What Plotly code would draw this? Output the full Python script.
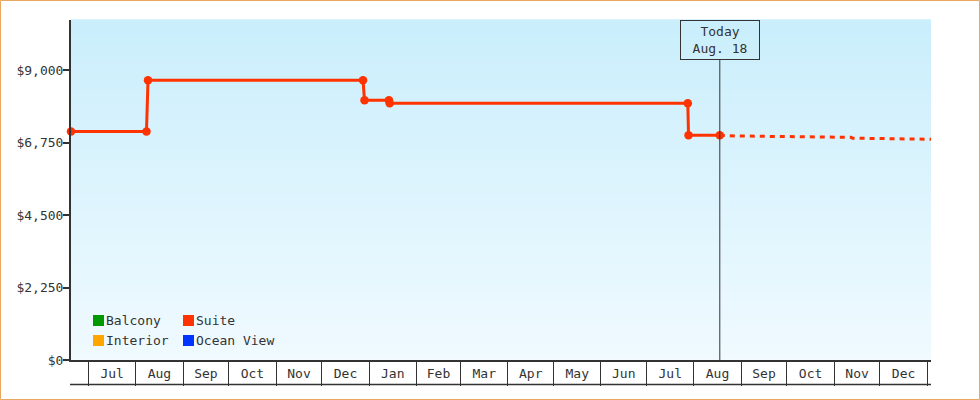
import plotly.graph_objects as go

# ---------------- data ----------------
suite_dates = ["2023-06-19 12:00", "2023-08-08", "2023-08-09", "2023-12-28", "2023-12-29",
               "2024-01-14", "2024-01-14 12:00", "2024-07-28", "2024-07-28 12:00", "2024-08-18"]
suite_prices = [7090, 7090, 8680, 8680, 8060, 8060, 7970, 7970, 6975, 6975]

forecast_dates = ["2024-08-18", "2024-08-28", "2024-09-20", "2024-10-20", "2024-11-12",
                  "2024-11-13", "2024-12-10", "2024-12-25", "2025-01-04"]
forecast_prices = [6975, 6955, 6940, 6915, 6910, 6885, 6870, 6850, 6850]

legend_names = ["Balcony", "Interior", "Suite", "Ocean View"]
legend_colors = ["#009900", "#ffa500", "#ff3300", "#0033ff"]

y_ticks = [0, 2250, 4500, 6750, 9000]
y_tick_text = ["$" + format(v, ",") for v in y_ticks]
x_range = ["2023-06-19 12:00", "2025-01-03 12:00"]
y_range = [0, 10552]
today = "2024-08-18"
today_label = "Today<br>Aug. 18"

FONT = "DejaVu Sans Mono"
INK = "#333333"
SUITE = "#ff3300"

W, H = 980, 400
ML, MR, MT, MB = 71, 49, 20, 40
PW, PH = W - ML - MR, H - MT - MB


def px_x(p):
    return (p - ML) / PW


def px_y(p):
    return (H - MB - p) / PH


fig = go.Figure()

fig.add_trace(go.Scatter(
    x=suite_dates, y=suite_prices, mode="lines+markers", name="Suite",
    line=dict(color=SUITE, width=3), marker=dict(color=SUITE, size=8.5),
    cliponaxis=False, showlegend=False, hoverinfo="x+y"))

fig.add_trace(go.Scatter(
    x=forecast_dates, y=forecast_prices, mode="lines", name="Suite forecast",
    line=dict(color=SUITE, width=3, dash="5px,5px"),
    showlegend=False, hoverinfo="x+y"))

shapes = []
# vertical gradient background
N = 68
top = (202, 238, 252)
bot = (240, 250, 255)
for i in range(N):
    t = i / (N - 1)
    c = tuple(round(bot[k] + (top[k] - bot[k]) * t) for k in range(3))
    shapes.append(dict(type="rect", xref="paper", yref="paper", x0=0, x1=1,
                       y0=i / N, y1=(i + 1) / N + 0.002, line=dict(width=0),
                       fillcolor="rgb(%d,%d,%d)" % c, layer="below"))

# bottom line under month boxes
shapes.append(dict(type="line", xref="paper", yref="paper", x0=px_x(70), x1=1,
                   y0=px_y(384.5), y1=px_y(384.5), line=dict(color=INK, width=1.5)))
# today line
shapes.append(dict(type="line", xref="x", yref="paper", x0=today, x1=today,
                   y0=0, y1=px_y(60), line=dict(color=INK, width=1)))
# outer border
shapes.append(dict(type="rect", xref="paper", yref="paper",
                   x0=px_x(0.5), x1=px_x(W - 0.5), y0=px_y(H - 0.5), y1=px_y(0.5),
                   line=dict(color="#e8a862", width=1)))

annotations = [dict(
    x=today, xref="x", y=1, yref="paper", yanchor="top", xanchor="center",
    text=today_label, showarrow=False, align="center",
    font=dict(family=FONT, size=13, color=INK),
    bordercolor=INK, borderwidth=1, borderpad=0, width=78, height=38)]

# legend (two columns)
pos = [(93, 315), (93, 335), (183, 315), (183, 335)]
for name, col, (lx, ly) in zip(legend_names, legend_colors, pos):
    shapes.append(dict(type="rect", xref="paper", yref="paper",
                       x0=px_x(lx), x1=px_x(lx + 11), y0=px_y(ly + 11), y1=px_y(ly),
                       line=dict(width=0), fillcolor=col))
    annotations.append(dict(x=px_x(lx + 12), y=px_y(ly + 5.5), xref="paper", yref="paper",
                            xanchor="left", yanchor="middle", text=name, showarrow=False,
                            font=dict(family=FONT, size=13, color=INK), borderpad=0))

fig.update_layout(
    width=W, height=H, margin=dict(l=ML, r=MR, t=MT, b=MB),
    paper_bgcolor="white", plot_bgcolor="#eaf7fe",
    font=dict(family=FONT, size=13, color=INK),
    shapes=shapes, annotations=annotations, showlegend=False,
    xaxis=dict(type="date", range=x_range, dtick="M1", tickformat="%b",
               ticklabelmode="period", ticks="outside", ticklen=24, tickwidth=1,
               tickcolor=INK, ticklabelstandoff=-23, showgrid=False, zeroline=False,
               showline=True, linecolor=INK, linewidth=1.5,
               tickfont=dict(family=FONT, size=13, color=INK)),
    yaxis=dict(range=y_range, tickvals=y_ticks, ticktext=y_tick_text,
               ticks="outside", ticklen=6, tickwidth=2, tickcolor=INK,
               ticklabelstandoff=-3,
               showgrid=False, zeroline=False, showline=True, linecolor=INK,
               linewidth=2, tickfont=dict(family=FONT, size=13, color=INK)),
)

fig.write_html("out.html", config={"displayModeBar": False},
               post_script="document.body.style.margin='0';document.body.style.padding='0';")
